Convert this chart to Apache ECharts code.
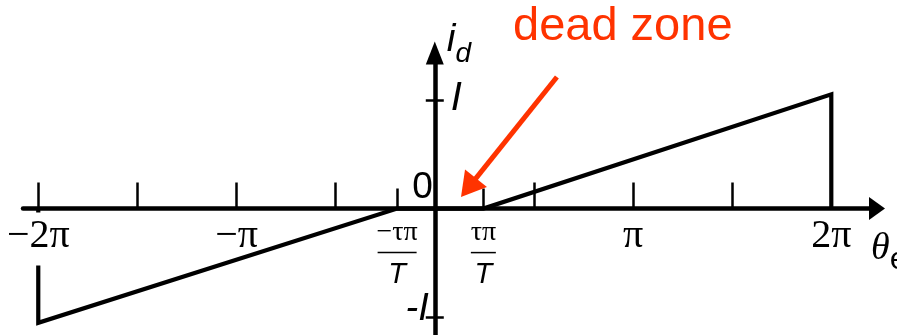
<!DOCTYPE html>
<html>
<head>
<meta charset="utf-8">
<style>
  html, body { margin: 0; padding: 0; background: #fff; }
  #chart { width: 897px; height: 335px; }
</style>
<script src="https://cdn.jsdelivr.net/npm/echarts@6/dist/echarts.min.js"></script>
</head>
<body>
<div id="chart"></div>
<script>
// Electrical angle in units of π, and the d-axis current in units of I.
const deadLo = -0.19;   // −τπ/T
const deadHi = 0.245;   // τπ/T
const theta   = [-2, -2, deadLo, deadHi, 2, 2];
const current = [0, -1.05, 0, 0, 1.05, 0];

// Axis marks
const thetaTicks  = [-2, -1.5, -1, -0.5, 0.5, 1, 1.5, 2];
const thetaLabelVals = [-2, -1, 1, 2];
const thetaLabels    = ['−2π', '−π', 'π', '2π'];
const deadTicks   = [deadLo, deadHi];
const currentTicks = [-1, 1];

// Callout arrow pointing at the dead zone (data units)
const calloutFrom = [0.616, 1.21];
const calloutTo   = [0.170, 0.193];

const SERIF = 'Liberation Serif, Times New Roman, serif';
const SANS  = 'Liberation Sans, Arial, sans-serif';
const RED   = '#ff3300';

const el = document.getElementById('chart');
const chart = echarts.init(el, null, { renderer: 'canvas' });

const xRange = { min: -2.077, max: 2.2305 };
const yRange = { min: -1.18, max: 1.43 };
const gridBox = { left: 23, right: 20, top: 53, bottom: -2 };

// Axes cross at the origin: shift each axis inward from the grid edge to zero.
const plotW = el.clientWidth - gridBox.left - gridBox.right;
const plotH = el.clientHeight - gridBox.top - gridBox.bottom;
const zeroX = gridBox.left + (0 - xRange.min) / (xRange.max - xRange.min) * plotW;
const zeroY = gridBox.top + (yRange.max - 0) / (yRange.max - yRange.min) * plotH;
const xAxisShift = -(gridBox.top + plotH - zeroY);
const yLeftShift = -(zeroX - gridBox.left);
const yRightShift = -(gridBox.left + plotW - zeroX);

chart.setOption({
  animation: false,
  backgroundColor: '#fff',
  title: {
    text: 'dead zone',
    left: 508, top: -1,
    textStyle: { color: RED, fontSize: 47, fontWeight: 'normal', fontFamily: SANS }
  },
  grid: Object.assign({ containLabel: false, outerBoundsMode: 'none' }, gridBox),
  xAxis: [
    {
      type: 'value', min: xRange.min, max: xRange.max, position: 'bottom',
      offset: xAxisShift, z: 3,
      splitLine: { show: false },
      axisLine: {
        show: true, onZero: false,
        symbol: ['none', 'triangle'], symbolSize: [23, 16],
        lineStyle: { color: '#000', width: 4.5 }
      },
      axisTick: {
        show: true, inside: true, length: 26, customValues: thetaTicks,
        lineStyle: { color: '#000', width: 2.5 }
      },
      axisLabel: {
        show: true, margin: 4, customValues: thetaLabelVals,
        verticalAlign: 'top',
        formatter: v => {
          const t = thetaLabels[thetaLabelVals.indexOf(v)];
          return v === -2 ? '{w|' + t + '}' : '{p|' + t + '}';
        },
        rich: {
          p: { fontFamily: SERIF, fontSize: 40, color: '#000', height: 40, padding: [4, 0, 0, 0] },
          w: { fontFamily: SERIF, fontSize: 40, color: '#000', height: 40,
               backgroundColor: '#fff', padding: [4, 3, 9, 3] }
        }
      },
      name: '{t|θ}{e|e}',
      nameLocation: 'end', nameGap: -6, nameMoveOverlap: false,
      nameTextStyle: {
        align: 'left', verticalAlign: 'top', padding: [21, 0, 0, 0],
        rich: {
          t: { fontFamily: SERIF, fontStyle: 'italic', fontSize: 38, lineHeight: 38,
               verticalAlign: 'top', color: '#000' },
          e: { fontFamily: SANS, fontSize: 32, lineHeight: 32, padding: [24, 0, 0, 0],
               color: '#000' }
        }
      }
    },
    {
      type: 'value', min: xRange.min, max: xRange.max, position: 'bottom',
      offset: xAxisShift, z: 3,
      splitLine: { show: false },
      axisLine: { show: false, onZero: false },
      axisTick: {
        show: true, inside: true, length: 20, customValues: deadTicks,
        lineStyle: { color: '#000', width: 2.5 }
      },
      axisLabel: {
        show: true, margin: 10, customValues: deadTicks, verticalAlign: 'top',
        formatter: v => v < 0
          ? '{n|−τπ}\n{bl| }\n{d|T}'
          : '{n|τπ}\n{br| }\n{d|T}',
        rich: {
          n:  { fontFamily: SERIF, fontSize: 28, lineHeight: 28, color: '#000' },
          bl: { width: 39, height: 1.5, lineHeight: 12, backgroundColor: '#000' },
          br: { width: 25, height: 1.5, lineHeight: 12, backgroundColor: '#000' },
          d:  { fontFamily: SANS, fontStyle: 'italic', fontSize: 29, lineHeight: 32, color: '#000' }
        }
      }
    }
  ],
  yAxis: [
    {
      type: 'value', min: yRange.min, max: yRange.max, position: 'left',
      offset: yLeftShift, z: 3,
      splitLine: { show: false },
      axisLine: {
        show: true, onZero: false,
        symbol: ['none', 'triangle'], symbolSize: [18, 23],
        lineStyle: { color: '#000', width: 4.5 }
      },
      axisTick: {
        show: true, length: 9, customValues: currentTicks,
        lineStyle: { color: '#000', width: 2.5 }
      },
      axisLabel: {
        show: true, margin: 2, customValues: [-1, 0],
        formatter: v => v === 0 ? '{z|0}' : '{m|-I}',
        rich: {
          z: { fontFamily: SANS, fontSize: 37, color: '#000', padding: [0, 0, 41, 0] },
          m: { fontFamily: SANS, fontStyle: 'italic', fontSize: 38, color: '#000', padding: [0, 4, 15, 0] }
        }
      },
      name: '{i|i}{d|d}',
      nameLocation: 'end', nameGap: 32, nameMoveOverlap: false,
      nameTextStyle: {
        align: 'left', verticalAlign: 'top', padding: [0, 0, 0, 12],
        rich: {
          i: { fontFamily: SANS, fontStyle: 'italic', fontSize: 39, lineHeight: 40,
               verticalAlign: 'top', color: '#000' },
          d: { fontFamily: SANS, fontStyle: 'italic', fontSize: 28, lineHeight: 28,
               padding: [27, 0, 0, 0], color: '#000' }
        }
      }
    },
    {
      type: 'value', min: yRange.min, max: yRange.max, position: 'right',
      offset: yRightShift, z: 3,
      splitLine: { show: false },
      axisLine: { show: false, onZero: false },
      axisTick: {
        show: true, length: 9, customValues: currentTicks,
        lineStyle: { color: '#000', width: 2.5 }
      },
      axisLabel: {
        show: true, margin: 16, customValues: [1],
        formatter: () => '{m|I}',
        rich: {
          m: { fontFamily: SANS, fontStyle: 'italic', fontSize: 40, color: '#000', padding: [0, 0, 1, 0] }
        }
      }
    }
  ],
  series: [
    {
      type: 'line',
      xAxisIndex: 0, yAxisIndex: 0,
      data: theta.map((t, i) => [t, current[i]]),
      showSymbol: false, symbol: 'none',
      lineStyle: { color: '#000', width: 4.2, join: 'miter', cap: 'butt' },
      z: 2,
      markLine: {
        silent: true, animation: false,
        symbolSize: [28, 24],
        label: { show: false },
        lineStyle: { color: RED, width: 5, type: 'solid' },
        data: [[
          { coord: calloutFrom, symbol: 'none' },
          { coord: calloutTo, symbol: 'triangle' }
        ]]
      }
    }
  ]
});
</script>
</body>
</html>
